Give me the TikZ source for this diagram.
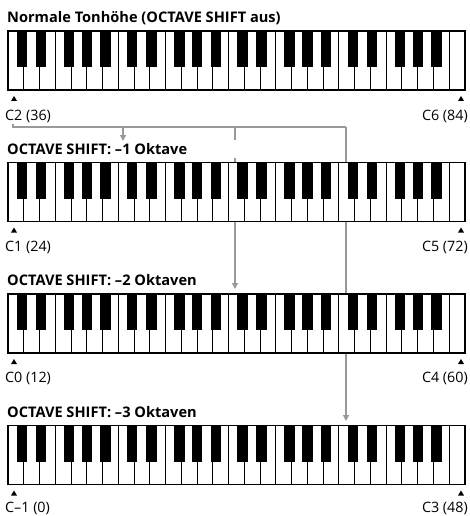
\documentclass[tikz,border=0pt]{standalone}
\usepackage{fontspec}
\setmainfont{Open Sans}
\usetikzlibrary{arrows.meta,calc}
\definecolor{conngray}{HTML}{999999}
\tikzset{
  kbd/.style={fill=white, minimum width=457pt, minimum height=59pt, inner sep=0pt, outer sep=0pt},
  kbdborder/.style={draw=black, line width=1.7pt},
  keyline/.style={draw=black, line width=1pt},
  blackkey/.style={fill=black},
  title/.style={font=\bfseries\fontsize{14.6}{16}\selectfont, anchor=base west, inner sep=0pt},
  rangelabel/.style={font=\fontsize{14.3}{16}\selectfont, inner sep=0pt},
  marker/.style={fill=black},
  conn/.style={draw=conngray, line width=1.3pt},
  connarrow/.style={conn, -{Triangle[width=6pt,length=6pt]}},
}
\newcommand\drawkeyboard[2]{%
  \node[kbd, anchor=north west] (#1) at (8,#2) {};
  \foreach \i in {1,...,28}{
    \draw[keyline] ($(#1.north west)+(\i*15.759,0)$) -- ($(#1.south west)+(\i*15.759,0)$);
  }
  \foreach \o in {0,1,2,3}{
    \foreach \b/\d in {1/-2,2/1.5,4/-2,5/0,6/3}{
      \fill[blackkey] ($(#1.north west)+(\o*110.313+\b*15.759+\d-5.2,0)$) rectangle ++(10.4,36);
    }
  }
  \draw[kbdborder] (#1.north west) rectangle (#1.south east);
  \fill[marker] ($(#1.south west)+(6,6)$) -- ++(3,5) -- ++(-6,0) -- cycle;
  \fill[marker] ($(#1.south east)+(-4,6)$) -- ++(3,5) -- ++(-6,0) -- cycle;
}
\begin{document}
\begin{tikzpicture}[x=1pt,y=-1pt]
\useasboundingbox[fill=white] (0,0) rectangle (469,516);
% connectors (behind keyboards)
\coordinate (s) at (13,123.5);
\coordinate (h) at (13,127);
\coordinate (b1) at (123,127);
\coordinate (b2) at (235,127);
\coordinate (b3) at (346,127);
\coordinate (g1) at (235,140);
\coordinate (g2) at (235,158);
\coordinate (a1) at (123,141);
\coordinate (a2) at (235,289);
\coordinate (a3) at (346,421);
\draw[conn] (s) -- (h) -- (b3);
\draw[connarrow] (b1) -- (a1);
\draw[conn] (b2) -- (g1);
\draw[connarrow] (g2) -- (a2);
\draw[connarrow] (b3) -- (a3);
% keyboards
\drawkeyboard{k1}{31}
\drawkeyboard{k2}{162.5}
\drawkeyboard{k3}{294}
\drawkeyboard{k4}{425.5}
% titles
\node[title] (t1) at (7,22.5) {Normale Tonhöhe (OCTAVE SHIFT aus)};
\node[title] (t2) at (7,154) {OCTAVE SHIFT: –1 Oktave};
\node[title] (t3) at (7,285.5) {OCTAVE SHIFT: –2 Oktaven};
\node[title] (t4) at (7,417) {OCTAVE SHIFT: –3 Oktaven};
% range labels
\node[rangelabel, anchor=base west] (l1) at (5,120.5) {C2 (36)};
\node[rangelabel, anchor=base east] (r1) at (468,120.5) {C6 (84)};
\node[rangelabel, anchor=base west] (l2) at (5,251) {C1 (24)};
\node[rangelabel, anchor=base east] (r2) at (468,251) {C5 (72)};
\node[rangelabel, anchor=base west] (l3) at (5,382.5) {C0 (12)};
\node[rangelabel, anchor=base east] (r3) at (468,382.5) {C4 (60)};
\node[rangelabel, anchor=base west] (l4) at (5,512.5) {C–1 (0)};
\node[rangelabel, anchor=base east] (r4) at (468,512.5) {C3 (48)};
\end{tikzpicture}
\end{document}
